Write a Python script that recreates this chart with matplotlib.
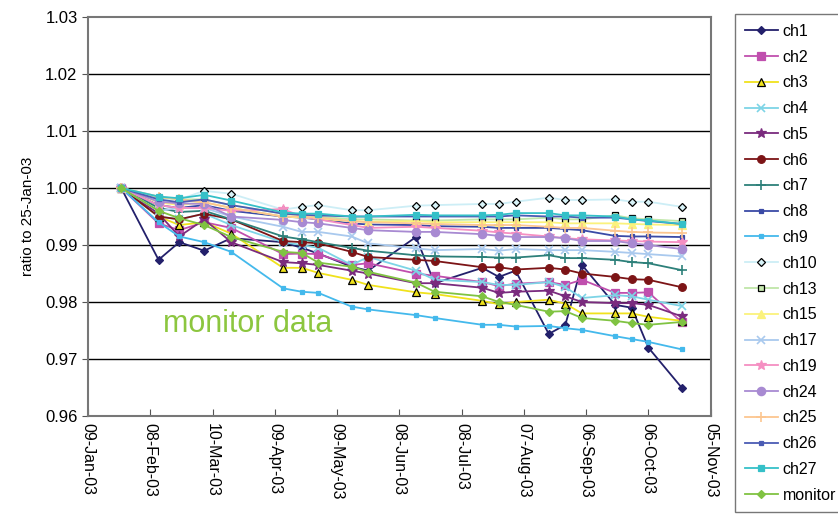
import matplotlib
matplotlib.use("Agg")
import matplotlib.pyplot as plt
import matplotlib.dates as mdates
import numpy as np
import datetime as dt

plt.rcParams["font.family"] = ["Liberation Sans", "DejaVu Sans"]

# measurement dates (ratio relative to 25-Jan-03)
dates = ["2003-01-25", "2003-02-12", "2003-02-22", "2003-03-06", "2003-03-19",
         "2003-04-13", "2003-04-22", "2003-04-30", "2003-05-16", "2003-05-24",
         "2003-06-16", "2003-06-25", "2003-07-18", "2003-07-26", "2003-08-03",
         "2003-08-19", "2003-08-27", "2003-09-04", "2003-09-20", "2003-09-28",
         "2003-10-06", "2003-10-22"]

ch1 = [1.0, 0.9874, 0.9905, 0.9890, 0.9912, 0.9905, 0.9895, 0.9885, 0.9862, 0.9855, 0.9914,
       0.9833, 0.9860, 0.9844, 0.9855, 0.9744, 0.9760, 0.9865, 0.9795, 0.9790, 0.9720, 0.9650]
ch2 = [1.0, 0.9938, 0.9926, 0.9940, 0.9930, 0.9884, 0.9885, 0.9884, 0.9865, 0.9868, 0.9850,
       0.9846, 0.9835, 0.9828, 0.9832, 0.9835, 0.9830, 0.9839, 0.9816, 0.9816, 0.9817, 0.9765]
ch3 = [1.0, 0.9950, 0.9935, 0.9940, 0.9920, 0.9860, 0.9860, 0.9851, 0.9839, 0.9830, 0.9817,
       0.9814, 0.9802, 0.9796, 0.9800, 0.9804, 0.9797, 0.9780, 0.9780, 0.9780, 0.9774, 0.9767]
ch4 = [1.0, 0.9950, 0.9945, 0.9955, 0.9935, 0.9905, 0.9900, 0.9895, 0.9865, 0.9879, 0.9855,
       0.9839, 0.9835, 0.9830, 0.9830, 0.9835, 0.9826, 0.9807, 0.9812, 0.9810, 0.9804, 0.9793]
ch5 = [1.0, 0.9955, 0.9915, 0.9945, 0.9905, 0.9870, 0.9868, 0.9865, 0.9855, 0.9850, 0.9833,
       0.9833, 0.9825, 0.9816, 0.9818, 0.9820, 0.9810, 0.9800, 0.9798, 0.9798, 0.9795, 0.9775]
ch6 = [1.0, 0.9950, 0.9945, 0.9955, 0.9945, 0.9907, 0.9905, 0.9903, 0.9888, 0.9879, 0.9874,
       0.9872, 0.9861, 0.9861, 0.9857, 0.9860, 0.9857, 0.9850, 0.9844, 0.9840, 0.9839, 0.9826]
ch7 = [1.0, 0.9965, 0.9958, 0.9960, 0.9945, 0.9915, 0.9910, 0.9905, 0.9895, 0.9890, 0.9882,
       0.9880, 0.9879, 0.9878, 0.9878, 0.9882, 0.9877, 0.9877, 0.9874, 0.9870, 0.9868, 0.9856]
ch8 = [1.0, 0.9970, 0.9965, 0.9970, 0.9960, 0.9950, 0.9948, 0.9945, 0.9938, 0.9936, 0.9935,
       0.9933, 0.9932, 0.9930, 0.9930, 0.9930, 0.9928, 0.9926, 0.9916, 0.9915, 0.9915, 0.9914]
ch9 = [1.0, 0.9940, 0.9915, 0.9905, 0.9888, 0.9824, 0.9818, 0.9816, 0.9792, 0.9787, 0.9777,
       0.9772, 0.9760, 0.9760, 0.9757, 0.9758, 0.9754, 0.9751, 0.9740, 0.9735, 0.9730, 0.9717]
ch10 = [1.0, 0.9985, 0.9980, 0.9995, 0.9990, 0.9962, 0.9967, 0.9970, 0.9961, 0.9961, 0.9969,
        0.9970, 0.9972, 0.9972, 0.9976, 0.9983, 0.9979, 0.9979, 0.9980, 0.9976, 0.9976, 0.9967]
ch13 = [1.0, 0.9983, 0.9980, 0.9980, 0.9970, 0.9955, 0.9952, 0.9950, 0.9945, 0.9945, 0.9943,
        0.9943, 0.9945, 0.9945, 0.9945, 0.9948, 0.9945, 0.9945, 0.9952, 0.9947, 0.9945, 0.9942]
ch15 = [1.0, 0.9975, 0.9970, 0.9975, 0.9965, 0.9950, 0.9948, 0.9946, 0.9942, 0.9941, 0.9942,
        0.9940, 0.9940, 0.9940, 0.9940, 0.9940, 0.9938, 0.9938, 0.9938, 0.9937, 0.9936, 0.9935]
ch17 = [1.0, 0.9960, 0.9965, 0.9965, 0.9950, 0.9932, 0.9923, 0.9923, 0.9915, 0.9903, 0.9894,
        0.9891, 0.9893, 0.9890, 0.9893, 0.9891, 0.9891, 0.9891, 0.9888, 0.9886, 0.9884, 0.9880]
ch19 = [1.0, 0.9970, 0.9965, 0.9965, 0.9960, 0.9963, 0.9950, 0.9945, 0.9935, 0.9930, 0.9932,
        0.9930, 0.9925, 0.9922, 0.9920, 0.9915, 0.9912, 0.9910, 0.9908, 0.9907, 0.9906, 0.9905]
ch24 = [1.0, 0.9976, 0.9973, 0.9972, 0.9950, 0.9944, 0.9940, 0.9938, 0.9930, 0.9926, 0.9923,
        0.9923, 0.9919, 0.9916, 0.9914, 0.9914, 0.9912, 0.9907, 0.9907, 0.9903, 0.9900, 0.9893]
ch25 = [1.0, 0.9985, 0.9980, 0.9975, 0.9965, 0.9950, 0.9950, 0.9948, 0.9942, 0.9940, 0.9938,
        0.9937, 0.9935, 0.9935, 0.9935, 0.9932, 0.9930, 0.9930, 0.9925, 0.9923, 0.9922, 0.9921]
ch26 = [1.0, 0.9980, 0.9975, 0.9980, 0.9970, 0.9955, 0.9953, 0.9952, 0.9950, 0.9950, 0.9950,
        0.9950, 0.9950, 0.9950, 0.9952, 0.9950, 0.9950, 0.9948, 0.9948, 0.9945, 0.9942, 0.9937]
ch27 = [1.0, 0.9985, 0.9982, 0.9988, 0.9978, 0.9957, 0.9955, 0.9955, 0.9950, 0.9950, 0.9953,
        0.9952, 0.9952, 0.9953, 0.9956, 0.9956, 0.9952, 0.9952, 0.9950, 0.9945, 0.9943, 0.9937]
monitor = [1.0, 0.9960, 0.9947, 0.9935, 0.9914, 0.9888, 0.9886, 0.9869, 0.9862, 0.9853, 0.9834,
           0.9818, 0.9810, 0.9800, 0.9795, 0.9783, 0.9784, 0.9772, 0.9767, 0.9763, 0.9760, 0.9765]

# (label, values, line colour, marker, marker face, marker edge, marker size)
series = [
    ("ch1", ch1, "#23206b", "D", "#23206b", "#23206b", 4.5),
    ("ch2", ch2, "#c04fae", "s", "#c04fae", "#c04fae", 5.5),
    ("ch3", ch3, "#f0e21c", "^", "#f0e21c", "black", 5.5),
    ("ch4", ch4, "#7dd4e6", "x", "#7dd4e6", "#7dd4e6", 6),
    ("ch5", ch5, "#7a2b7e", "*", "#7a2b7e", "#7a2b7e", 7),
    ("ch6", ch6, "#7c1416", "o", "#7c1416", "#7c1416", 5.5),
    ("ch7", ch7, "#2d807a", "+", "#2d807a", "#2d807a", 7),
    ("ch8", ch8, "#3a4aa6", "s", "#3a4aa6", "#3a4aa6", 3),
    ("ch9", ch9, "#44b9ec", "s", "#44b9ec", "#44b9ec", 3.5),
    ("ch10", ch10, "#cdeef6", "D", "#d8f3f8", "black", 4.5),
    ("ch13", ch13, "#bfe6a8", "s", "#c6e8b0", "black", 5),
    ("ch15", ch15, "#fbf27c", "^", "#fbf27c", "#fbf27c", 5.5),
    ("ch17", ch17, "#a9c9ee", "x", "#a9c9ee", "#a9c9ee", 6),
    ("ch19", ch19, "#f58fc2", "*", "#f58fc2", "#f58fc2", 7),
    ("ch24", ch24, "#a88ad2", "o", "#a88ad2", "#a88ad2", 6),
    ("ch25", ch25, "#fcc690", "+", "#fcc690", "#fcc690", 7),
    ("ch26", ch26, "#4b5cb4", "s", "#4b5cb4", "#4b5cb4", 3),
    ("ch27", ch27, "#35c0c8", "s", "#35c0c8", "#35c0c8", 4.5),
    ("monitor", monitor, "#80c342", "D", "#80c342", "#80c342", 4.5),
]

x = [dt.datetime.strptime(d, "%Y-%m-%d") for d in dates]

fig = plt.figure(figsize=(8.38, 5.25), dpi=100)
ax = fig.add_axes([0.105, 0.2076, 0.743, 0.76])

for lab, vals, col, mk, mfc, mec, ms in series:
    ax.plot(x, vals, color=col, lw=1.3, marker=mk, mfc=mfc, mec=mec,
            ms=ms, mew=1.2 if mk in ("x", "+") else 0.9, label=lab)

start = dt.datetime(2003, 1, 9)
ticks = [start + dt.timedelta(days=30 * i) for i in range(11)]
ax.set_xlim(ticks[0], ticks[-1])
ax.set_xticks(ticks)
ax.xaxis.set_major_formatter(mdates.DateFormatter("%d-%b-%y"))
plt.setp(ax.get_xticklabels(), rotation=-90, ha="center", va="top", fontsize=11.5)
ax.tick_params(axis="x", direction="in", length=5, color="#555555", pad=5)
ax.tick_params(axis="y", direction="out", length=4, labelsize=12, color="#555555")

ax.set_ylim(0.96, 1.03)
ax.set_yticks(np.arange(0.96, 1.0301, 0.01))
ax.yaxis.set_major_formatter(matplotlib.ticker.FormatStrFormatter("%.2f"))
ax.set_ylabel("ratio to 25-Jan-03", fontsize=11)
ax.yaxis.set_label_coords(-0.085, 0.5)
for yv in np.arange(0.97, 1.0201, 0.01):
    ax.axhline(yv, color="black", lw=1.0, zorder=0.5)
for s in ax.spines.values():
    s.set_color("#777777")
    s.set_linewidth(1.5)

ax.text(dt.datetime(2003, 2, 14), 0.9762, "monitor data", color="#8cc63f",
        fontsize=22, va="center", ha="left")

fig.legend(loc="upper left", bbox_to_anchor=(0.877, 0.973), fontsize=11.5,
           labelspacing=0.675, handlelength=2.1, borderaxespad=0.0,
           frameon=True, fancybox=False, edgecolor="#555555",
           handletextpad=0.3, borderpad=0.6)

fig.savefig("out.png", dpi=100)
